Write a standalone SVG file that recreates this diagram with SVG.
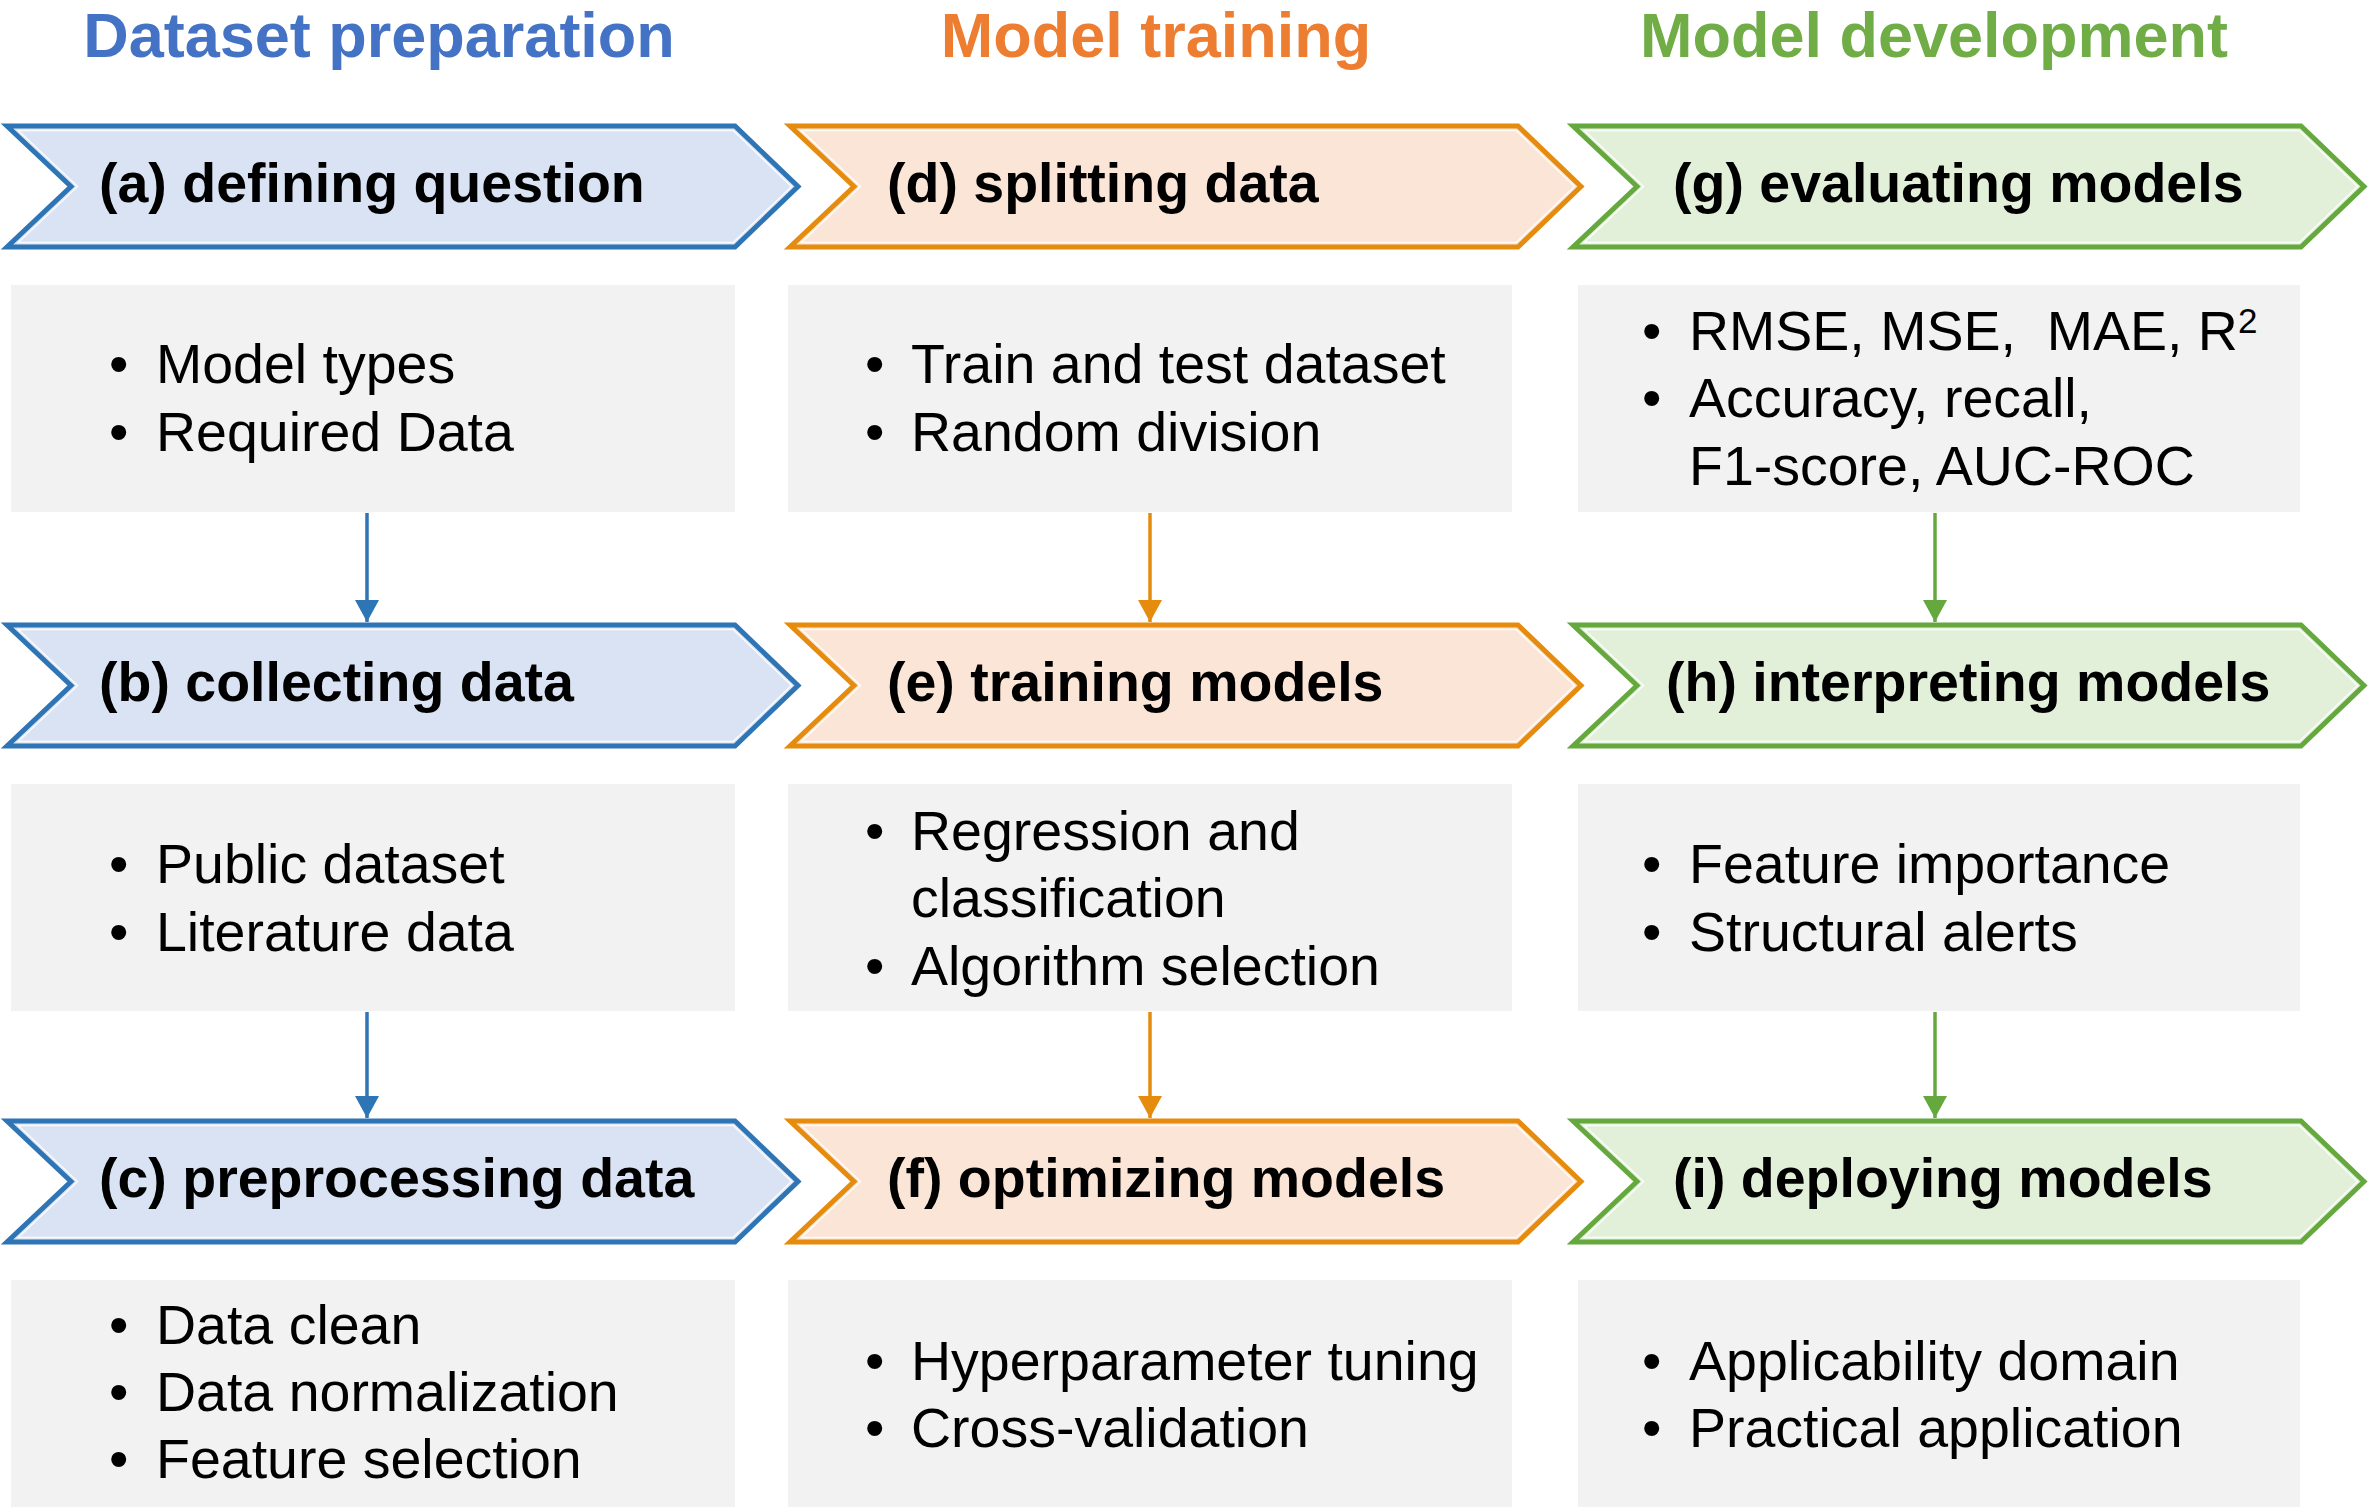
<svg xmlns="http://www.w3.org/2000/svg" width="2370" height="1512" viewBox="0 0 2370 1512">
<style>
.title{font-family:"Liberation Sans",Arial,sans-serif;font-weight:bold;font-size:63px;text-anchor:middle}
.head{font-family:"Liberation Sans",Arial,sans-serif;font-weight:bold;font-size:55.5px;fill:#000}
.body{font-family:"Liberation Sans",Arial,sans-serif;font-size:55.5px;fill:#000}
.box{fill:#F2F2F2}
.cb{fill:#DAE3F3;stroke:#2E75B6;stroke-width:5;stroke-linejoin:miter}
.co{fill:#FBE5D6;stroke:#E58B0E;stroke-width:5;stroke-linejoin:miter}
.cg{fill:#E2F0D9;stroke:#65A83E;stroke-width:5;stroke-linejoin:miter}
.hl{fill:none;stroke:#FFFFFF;stroke-width:1.5;stroke-opacity:0.85}
.lb{stroke:#2E75B6;stroke-width:3.5;fill:none}
.lo{stroke:#E58B0E;stroke-width:3.5;fill:none}
.lg{stroke:#65A83E;stroke-width:3.5;fill:none}
</style>
<defs>
<path id="chev" d="M0,0 H728 L791,60.5 L728,121 H0 L64,60.5 Z"/>
<path id="chin" d="M11.3,4.5 H726.2 L784.5,60.5 L726.2,116.5 H11.3 L70.5,60.5 Z"/>
<marker id="ab" markerUnits="userSpaceOnUse" viewBox="0 0 22 24" refX="22" refY="12" markerWidth="22" markerHeight="24" orient="auto"><path d="M0,0 L22,12 L0,24 Z" fill="#2E75B6"/></marker>
<marker id="ao" markerUnits="userSpaceOnUse" viewBox="0 0 22 24" refX="22" refY="12" markerWidth="22" markerHeight="24" orient="auto"><path d="M0,0 L22,12 L0,24 Z" fill="#E58B0E"/></marker>
<marker id="ag" markerUnits="userSpaceOnUse" viewBox="0 0 22 24" refX="22" refY="12" markerWidth="22" markerHeight="24" orient="auto"><path d="M0,0 L22,12 L0,24 Z" fill="#65A83E"/></marker>
</defs>
<rect width="2370" height="1512" fill="#FFFFFF"/>

<g id="titles">
<text class="title" x="379" y="57" fill="#4472C4">Dataset preparation</text>
<text class="title" x="1156" y="57" fill="#ED7D31">Model training</text>
<text class="title" x="1934" y="57" fill="#70AD47">Model development</text>
</g>

<g id="connectors">
<line class="lb" x1="367" y1="513" x2="367" y2="622" marker-end="url(#ab)"/>
<line class="lb" x1="367" y1="1012" x2="367" y2="1118" marker-end="url(#ab)"/>
<line class="lo" x1="1150" y1="513" x2="1150" y2="622" marker-end="url(#ao)"/>
<line class="lo" x1="1150" y1="1012" x2="1150" y2="1118" marker-end="url(#ao)"/>
<line class="lg" x1="1935" y1="513" x2="1935" y2="622" marker-end="url(#ag)"/>
<line class="lg" x1="1935" y1="1012" x2="1935" y2="1118" marker-end="url(#ag)"/>
</g>

<g id="node-a">
<use href="#chev" class="cb" x="7" y="126"/><use href="#chin" class="hl" x="7" y="126"/>
<text class="head" x="99" y="202">(a) defining question</text>
</g>
<g id="box-a">
<rect class="box" x="11" y="285" width="724" height="227"/>
<text class="body" x="109" y="383">•</text><text class="body" x="156" y="383">Model types</text>
<text class="body" x="109" y="451">•</text><text class="body" x="156" y="451">Required Data</text>
</g>

<g id="node-b">
<use href="#chev" class="cb" x="7" y="625"/><use href="#chin" class="hl" x="7" y="625"/>
<text class="head" x="99" y="701">(b) collecting data</text>
</g>
<g id="box-b">
<rect class="box" x="11" y="784" width="724" height="227"/>
<text class="body" x="109" y="883">•</text><text class="body" x="156" y="883">Public dataset</text>
<text class="body" x="109" y="951">•</text><text class="body" x="156" y="951">Literature data</text>
</g>

<g id="node-c">
<use href="#chev" class="cb" x="7" y="1121"/><use href="#chin" class="hl" x="7" y="1121"/>
<text class="head" x="99" y="1197">(c) preprocessing data</text>
</g>
<g id="box-c">
<rect class="box" x="11" y="1280" width="724" height="227"/>
<text class="body" x="109" y="1344">•</text><text class="body" x="156" y="1344">Data clean</text>
<text class="body" x="109" y="1411">•</text><text class="body" x="156" y="1411">Data normalization</text>
<text class="body" x="109" y="1478">•</text><text class="body" x="156" y="1478">Feature selection</text>
</g>

<g id="node-d">
<use href="#chev" class="co" x="790" y="126"/><use href="#chin" class="hl" x="790" y="126"/>
<text class="head" x="887" y="202">(d) splitting data</text>
</g>
<g id="box-d">
<rect class="box" x="788" y="285" width="724" height="227"/>
<text class="body" x="865" y="383">•</text><text class="body" x="911" y="383">Train and test dataset</text>
<text class="body" x="865" y="451">•</text><text class="body" x="911" y="451">Random division</text>
</g>

<g id="node-e">
<use href="#chev" class="co" x="790" y="625"/><use href="#chin" class="hl" x="790" y="625"/>
<text class="head" x="887" y="701">(e) training models</text>
</g>
<g id="box-e">
<rect class="box" x="788" y="784" width="724" height="227"/>
<text class="body" x="865" y="850">•</text><text class="body" x="911" y="850">Regression and</text>
<text class="body" x="911" y="917">classification</text>
<text class="body" x="865" y="985">•</text><text class="body" x="911" y="985">Algorithm selection</text>
</g>

<g id="node-f">
<use href="#chev" class="co" x="790" y="1121"/><use href="#chin" class="hl" x="790" y="1121"/>
<text class="head" x="887" y="1197">(f) optimizing models</text>
</g>
<g id="box-f">
<rect class="box" x="788" y="1280" width="724" height="227"/>
<text class="body" x="865" y="1380">•</text><text class="body" x="911" y="1380">Hyperparameter tuning</text>
<text class="body" x="865" y="1447">•</text><text class="body" x="911" y="1447">Cross-validation</text>
</g>

<g id="node-g">
<use href="#chev" class="cg" x="1573" y="126"/><use href="#chin" class="hl" x="1573" y="126"/>
<text class="head" x="1673" y="202">(g) evaluating models</text>
</g>
<g id="box-g">
<rect class="box" x="1578" y="285" width="722" height="227"/>
<text class="body" x="1642" y="350">•</text><text class="body" x="1689" y="350" xml:space="preserve">RMSE, MSE,  MAE, R<tspan font-size="35" dy="-17">2</tspan></text>
<text class="body" x="1642" y="417">•</text><text class="body" x="1689" y="417">Accuracy, recall,</text>
<text class="body" x="1689" y="485">F1-score, AUC-ROC</text>
</g>

<g id="node-h">
<use href="#chev" class="cg" x="1573" y="625"/><use href="#chin" class="hl" x="1573" y="625"/>
<text class="head" x="1666" y="701">(h) interpreting models</text>
</g>
<g id="box-h">
<rect class="box" x="1578" y="784" width="722" height="227"/>
<text class="body" x="1642" y="883">•</text><text class="body" x="1689" y="883">Feature importance</text>
<text class="body" x="1642" y="951">•</text><text class="body" x="1689" y="951">Structural alerts</text>
</g>

<g id="node-i">
<use href="#chev" class="cg" x="1573" y="1121"/><use href="#chin" class="hl" x="1573" y="1121"/>
<text class="head" x="1673" y="1197">(i) deploying models</text>
</g>
<g id="box-i">
<rect class="box" x="1578" y="1280" width="722" height="227"/>
<text class="body" x="1642" y="1380">•</text><text class="body" x="1689" y="1380">Applicability domain</text>
<text class="body" x="1642" y="1447">•</text><text class="body" x="1689" y="1447">Practical application</text>
</g>
</svg>
